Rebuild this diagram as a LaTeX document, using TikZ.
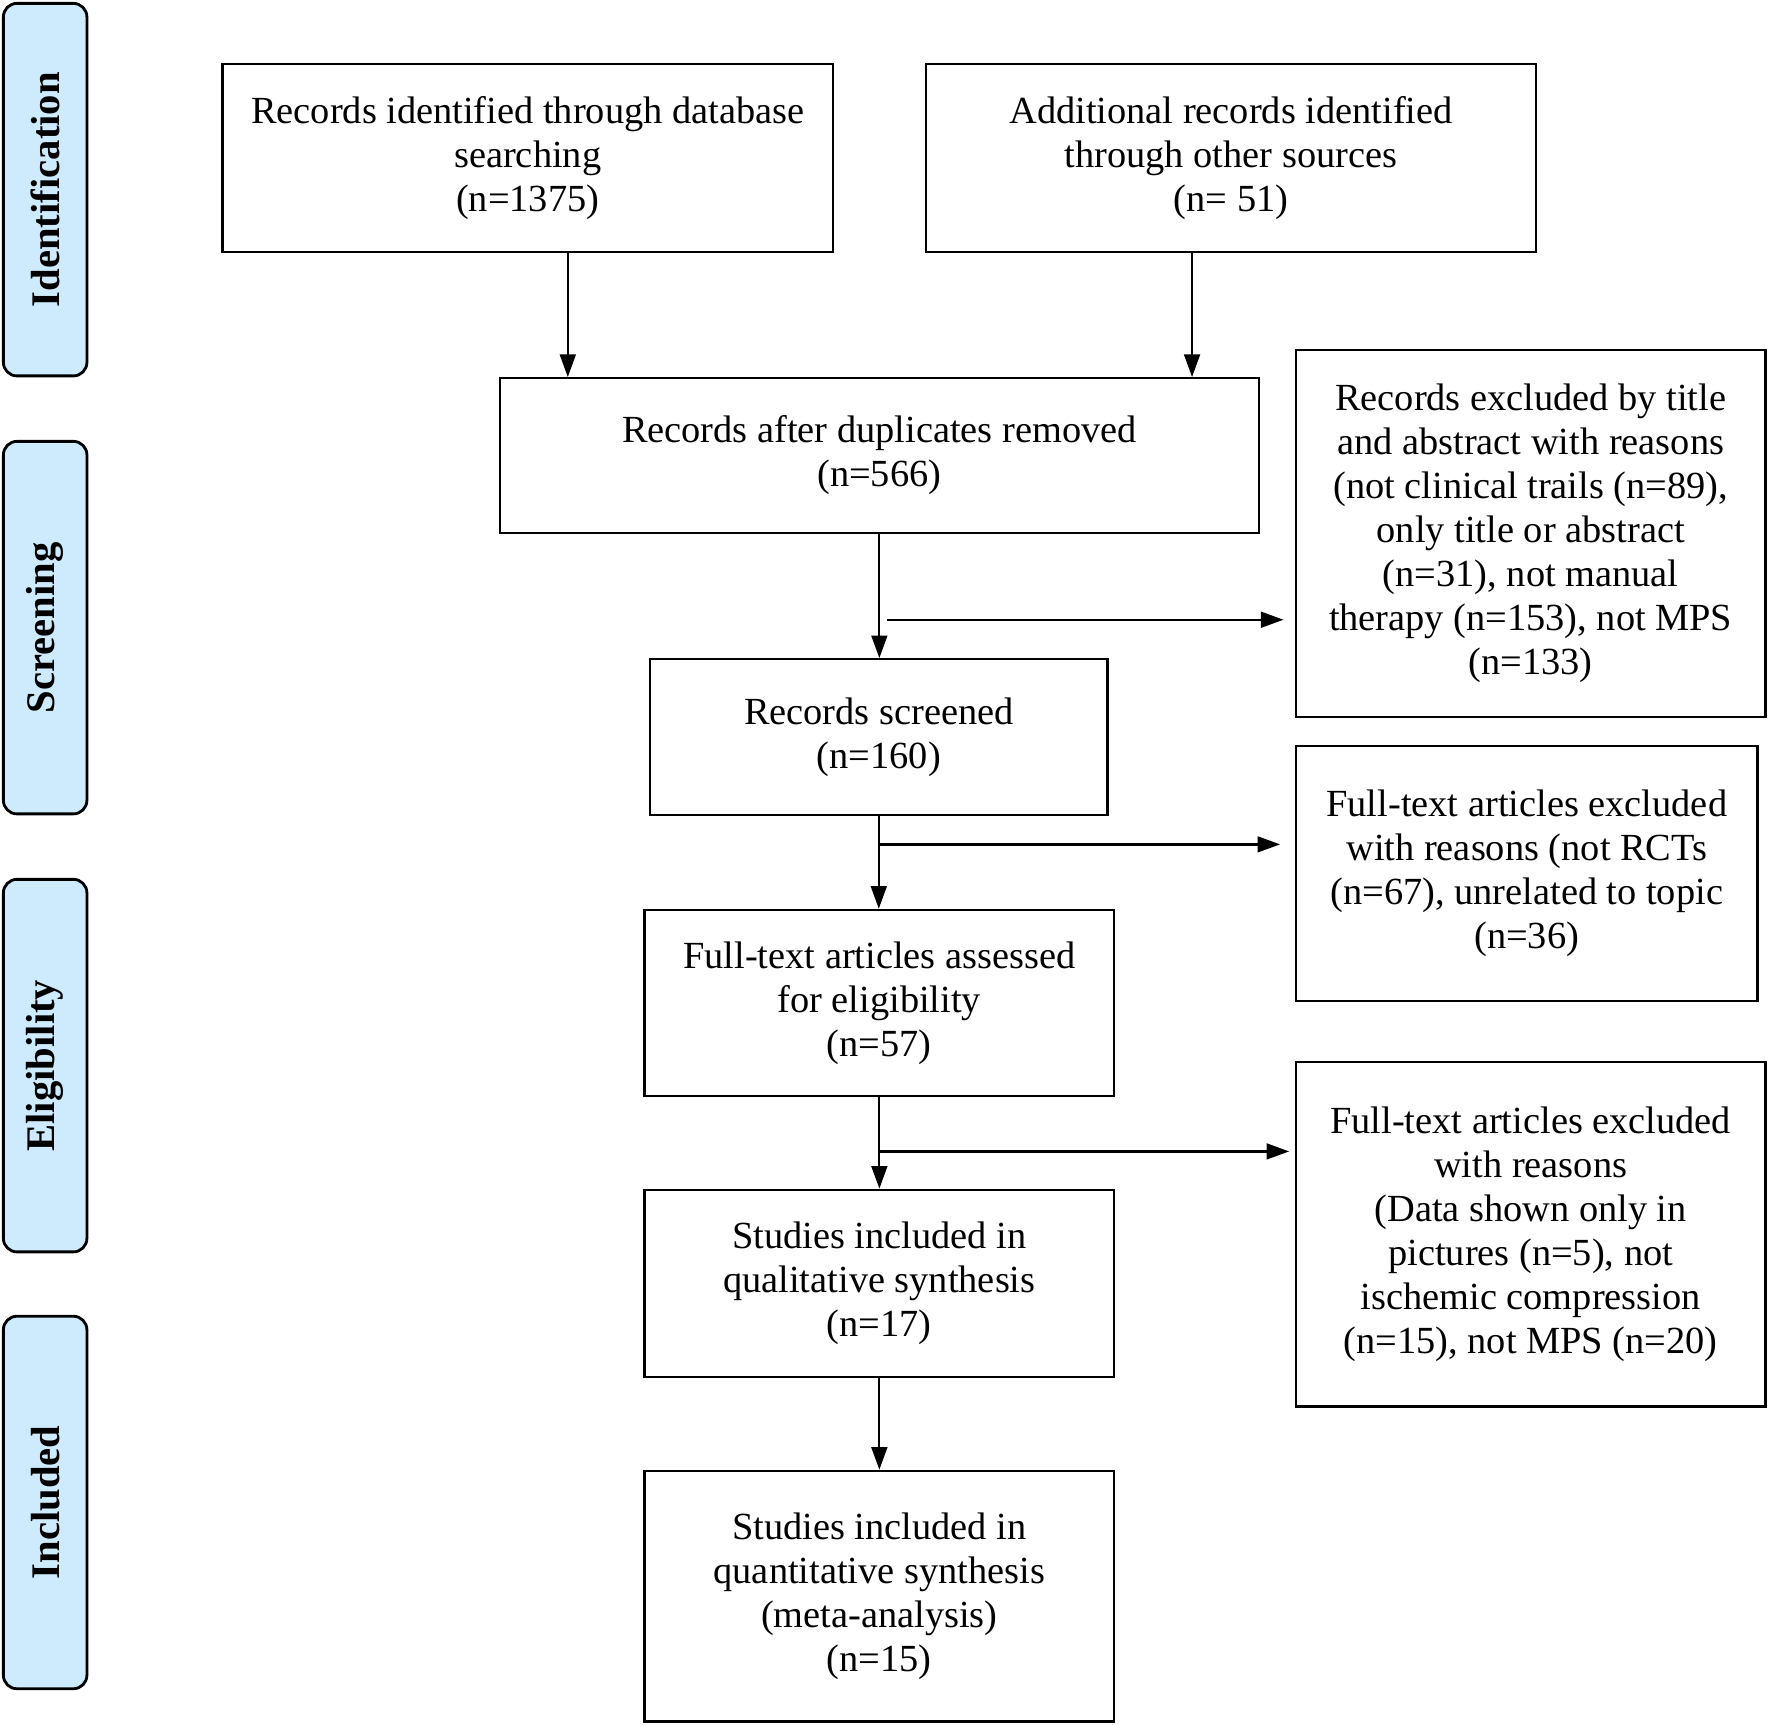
\documentclass[tikz,border=0pt]{standalone}
\usepackage{fontspec}
\setmainfont{Liberation Serif}
\usetikzlibrary{arrows.meta}
\definecolor{tabblue}{RGB}{205,235,252}
\begin{document}
\begin{tikzpicture}[x=1pt,y=-1pt,
 box/.style={draw, line width=2pt, align=center, inner sep=0pt, font=\fontsize{34}{39}\selectfont},
 tab/.style={draw, line width=2.5pt, fill=tabblue, rounded corners=12pt, rotate=90, minimum width=330pt, minimum height=74pt, inner sep=0pt, font=\fontsize{36}{40}\selectfont\bfseries},
 arr/.style={line width=2pt, -{Triangle[length=20pt,width=14pt]}}]
\useasboundingbox (0,0) rectangle (1568,1529);

\node[tab] (T1) at (40,168) {Identification};
\node[tab] (T2) at (40,556) {Screening};
\node[tab] (T3) at (40,944) {Eligibility};
\node[tab] (T4) at (40,1331) {Included};

\node[box, minimum width=541pt, minimum height=166pt] (A) at (467.5,140) {Records identified through database\\searching\\(n=1375)};
\node[box, minimum width=541pt, minimum height=166pt] (B) at (1090.5,140) {Additional records identified\\through other sources\\(n= 51)};
\node[box, minimum width=672pt, minimum height=137pt] (C) at (779,403.5) {Records after duplicates removed\\(n=566)};
\node[box, minimum width=416pt, minimum height=325pt] (D) at (1356,472.5) {Records excluded by title\\and abstract with reasons\\(not clinical trails (n=89),\\only title or abstract\\(n=31), not manual\\therapy (n=153), not MPS\\(n=133)};
\node[box, minimum width=405pt, minimum height=138pt] (E) at (778.5,653) {Records screened\\(n=160)};
\node[box, minimum width=409pt, minimum height=226pt] (F) at (1352.5,774) {Full-text articles excluded\\with reasons (not RCTs\\(n=67), unrelated to topic\\(n=36)};
\node[box, minimum width=416pt, minimum height=165pt] (G) at (779,888.5) {Full-text articles assessed\\for eligibility\\(n=57)};
\node[box, minimum width=416pt, minimum height=305pt] (H) at (1356,1093.5) {Full-text articles excluded\\with reasons\\(Data shown only in\\pictures (n=5), not\\ischemic compression\\(n=15), not MPS (n=20)};
\node[box, minimum width=416pt, minimum height=166pt] (I) at (779,1137) {Studies included in\\qualitative synthesis\\(n=17)};
\node[box, minimum width=416pt, minimum height=222pt] (J) at (779,1414) {Studies included in\\quantitative synthesis\\(meta-analysis)\\(n=15)};

\draw[arr] ([xshift=35.5pt]A.south) -- ([xshift=35.5pt]A.south |- C.north);
\draw[arr] ([xshift=-34.5pt]B.south) -- ([xshift=-34.5pt]B.south |- C.north);
\draw[arr] (C.south) -- (C.south |- E.north);
\draw[arr] (E.south) -- (E.south |- G.north);
\draw[arr] (G.south) -- (G.south |- I.north);
\draw[arr] (I.south) -- (I.south |- J.north);

\coordinate (s1) at (786,549);
\coordinate (s2) at (779,748);
\coordinate (s3) at (779,1020);
\draw[arr, shorten >=10pt] (s1) -- (s1 -| D.west);
\draw[arr, shorten >=13pt] (s2) -- (s2 -| F.west);
\draw[arr, shorten >=5pt] (s3) -- (s3 -| H.west);
\end{tikzpicture}
\end{document}
